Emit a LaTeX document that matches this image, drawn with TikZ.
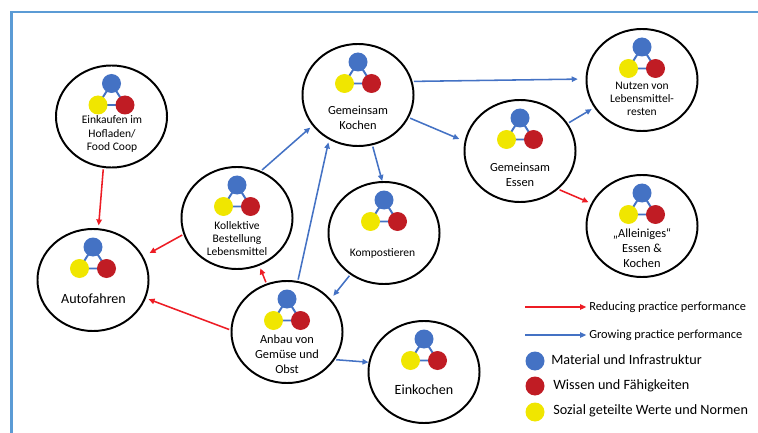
\documentclass[tikz,border=0pt]{standalone}
\usepackage{fontspec}
\setmainfont{Carlito}
\usepackage{tikz}
\usetikzlibrary{shapes.geometric,arrows.meta}
\definecolor{matblue}{RGB}{68,114,196}
\definecolor{wisred}{RGB}{192,28,36}
\definecolor{sozyellow}{RGB}{240,230,0}
\definecolor{redline}{RGB}{237,28,36}
\definecolor{framelblue}{RGB}{91,155,213}
\newcommand{\triad}[1]{%
  \begin{scope}[shift={(#1.center)}]
    \draw[matblue,line width=1.4pt] (0,-33) -- (-13.5,-11.5) -- (13.5,-11.5) -- cycle;
    \fill[matblue] (0,-33) circle (9.5);
    \fill[sozyellow] (-13.5,-11.5) circle (9.5);
    \fill[wisred] (13.5,-11.5) circle (9.5);
  \end{scope}}

\begin{document}
\begin{tikzpicture}[x=0.025cm,y=-0.025cm,
    practice/.style={ellipse,draw,line width=1.4pt,minimum width=2.775cm,minimum height=2.55cm,inner sep=0pt},
    smalltxt/.style={align=center,inner sep=0pt,font=\fontsize{8.2}{9.3}\selectfont},
    midtxt/.style={align=center,inner sep=0pt,font=\fontsize{8.8}{10.7}\selectfont},
    bigtxt/.style={align=center,inner sep=0pt,font=\fontsize{10}{12}\selectfont},
    legtxt/.style={anchor=west,inner sep=0pt,font=\fontsize{8.8}{10.7}\selectfont},
    legbig/.style={anchor=west,inner sep=0pt,font=\fontsize{10.1}{12}\selectfont},
    redarr/.style={redline,line width=1.1pt,-{Triangle[length=4.3pt,width=3.8pt]},shorten >=2pt,shorten <=1pt},
    bluearr/.style={matblue,line width=1.1pt,-{Triangle[length=4.3pt,width=3.8pt]},shorten >=2pt,shorten <=1pt}]
    \useasboundingbox (0,0) rectangle (758,433);
    \draw[framelblue,line width=1.8pt] (11.5,440) -- (11.5,12) -- (765,12);

    % practices
    \node[practice] (einkauf) at (111.5,116.5) {};
    \node[practice] (kochen) at (358,95) {};
    \node[practice] (nutzen) at (642,80) {};
    \node[practice] (essen) at (520,151) {};
    \node[practice] (alleine) at (642,226) {};
    \node[practice] (kollektiv) at (237,218) {};
    \node[practice] (auto) at (93,280) {};
    \node[practice] (kompost) at (384,233) {};
    \node[practice] (anbau) at (287,332) {};
    \node[practice] (einkochen) at (424,372) {};

    \foreach \p in {einkauf,kochen,nutzen,essen,alleine,kollektiv,auto,kompost,anbau,einkochen}
        {\triad{\p}}

    \node[smalltxt] (einkauf-t) at (112,134) {Einkaufen im\\Hofladen/\\Food Coop};
    \node[midtxt] (kochen-t) at (358,117.5) {Gemeinsam\\Kochen};
    \node[smalltxt] (nutzen-t) at (642,99) {Nutzen von\\Lebensmittel-\\resten};
    \node[midtxt] (essen-t) at (520,174.5) {Gemeinsam\\Essen};
    \node[midtxt] (alleine-t) at (642,248.5) {„Alleiniges“\\Essen \&\\Kochen};
    \node[smalltxt] (kollektiv-t) at (237,238.5) {Kollektive\\Bestellung\\Lebensmittel};
    \node[bigtxt] (auto-t) at (93.5,299) {Autofahren};
    \node[smalltxt] (kompost-t) at (382.5,253) {Kompostieren};
    \node[midtxt] (anbau-t) at (287,354) {Anbau von\\Gemüse und\\Obst};
    \node[bigtxt] (einkochen-t) at (424,390) {Einkochen};

    % connections
    \draw[redarr] (einkauf.261) -- (auto.84);
    \draw[redarr,shorten >=5pt] (kollektiv.197) -- (auto.25);
    \draw[redarr] (anbau.178) -- (auto.-19);
    \draw[redarr] (anbau.113) -- (kollektiv.-65);
    \draw[bluearr] (anbau.78) -- (kochen.237);
    \draw[bluearr] (kollektiv.63) -- (kochen.214);
    \draw[bluearr,shorten >=0pt] (kochen.-74) -- (kompost.92);
    \draw[bluearr,shorten >=3pt] (kompost.231) -- (anbau.37);
    \draw[bluearr,shorten >=0pt] (anbau.-30) -- (einkochen.170);
    \draw[bluearr,shorten >=5.5pt] (kochen.14) -- (nutzen.179);
    \draw[bluearr,shorten >=4pt] (kochen.-24) -- (essen.170);
    \draw[bluearr] (essen.30) -- (nutzen.210);
    \draw[redarr] (essen.-45) -- (alleine.156);

    % legend
    \coordinate (redfrom) at (525,307);
    \coordinate (bluefrom) at (525,335);
    \node[legtxt] (redtxt) at (589,307) {Reducing practice performance};
    \node[legtxt] (bluetxt) at (589,335) {Growing practice performance};
    \draw[redarr,shorten <=0pt] (redfrom) -- (redtxt.west);
    \draw[bluearr,shorten <=0pt] (bluefrom) -- (bluetxt.west);
    \fill[matblue] (535,361) circle (9.5);
    \fill[wisred] (535,386) circle (9.5);
    \fill[sozyellow] (535,412) circle (9.5);
    \node[legbig] (mattxt) at (551,360) {Material und Infrastruktur};
    \node[legbig] (wistxt) at (553,386) {Wissen und Fähigkeiten};
    \node[legbig] (soztxt) at (553,411) {Sozial geteilte Werte und Normen};
\end{tikzpicture}
\end{document}
